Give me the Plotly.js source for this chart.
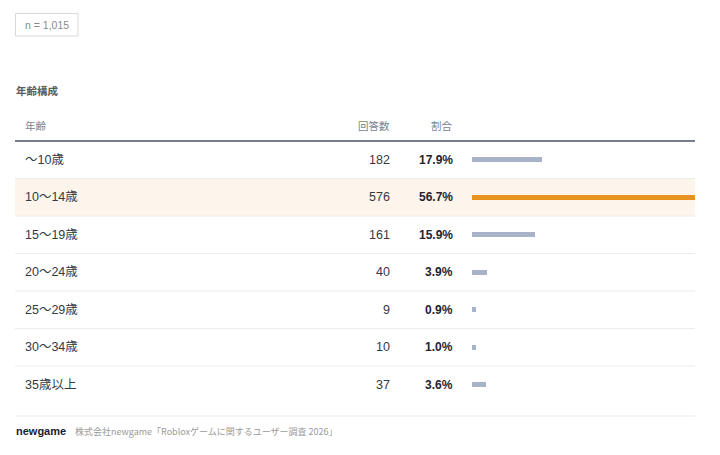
<!DOCTYPE html>
<html>
<head>
<meta charset="utf-8">
<script src="https://cdn.plot.ly/plotly-3.0.1.min.js"></script>
<style>
html,body{margin:0;padding:0;background:#fff;}
#chart{width:720px;height:455px;}
</style>
</head>
<body>
<div id="chart"></div>
<script>
// ---- data ----
const categories = ["～10歳", "10～14歳", "15～19歳", "20～24歳", "25～29歳", "30～34歳", "35歳以上"];
const counts = [182, 576, 161, 40, 9, 10, 37];
const shares = [17.9, 56.7, 15.9, 3.9, 0.9, 1.0, 3.6];
const sampleLabel = "n = 1,015";
const sectionTitle = "年齢構成";
const headers = ["年齢", "回答数", "割合"];
const sourceBrand = "newgame";
const sourceText = "株式会社newgame「Robloxゲームに関するユーザー調査 2026」";

// ---- layout helpers (pixel -> paper) ----
const W = 720, H = 455;
const px = x => x / W;
const py = y => 1 - y / H;

const maxShare = Math.max(...shares);
const hi = shares.indexOf(maxShare);

const LAT = "Liberation Sans, Arial, Noto Sans CJK JP, sans-serif";
const JP = "Noto Sans CJK JP, Liberation Sans, sans-serif";

const tableTop = 141, tableBottom = 403.5;

const trace = {
  type: "bar",
  orientation: "h",
  y: categories.map((_, i) => i),
  x: shares,
  width: 0.14,
  marker: { color: shares.map((_, i) => i === hi ? "#e8921f" : "#a8b2c8") },
  hoverinfo: "skip"
};

const shapes = [];
const annotations = [];

// highlighted row background
shapes.push({
  type: "rect", xref: "paper", yref: "y",
  x0: px(15), x1: px(695), y0: hi - 0.5, y1: hi + 0.5,
  fillcolor: "#fdf5eb", line: { width: 0 }, layer: "below"
});
// row separators (between rows)
for (let i = 0; i < categories.length - 1; i++) {
  shapes.push({
    type: "line", xref: "paper", yref: "y",
    x0: px(15), x1: px(695), y0: i + 0.5, y1: i + 0.5,
    line: { color: "#ececec", width: 1 }, layer: "below"
  });
}
// header line
shapes.push({
  type: "line", xref: "paper", yref: "paper",
  x0: px(15), x1: px(695), y0: py(141), y1: py(141),
  line: { color: "#4a5263", width: 1.3 }
});
// footer separator
shapes.push({
  type: "line", xref: "paper", yref: "paper",
  x0: px(15), x1: px(695), y0: py(416), y1: py(416),
  line: { color: "#ececec", width: 1 }
});
// n box
shapes.push({
  type: "rect", xref: "paper", yref: "paper",
  x0: px(15.5), x1: px(78), y0: py(13.5), y1: py(36),
  line: { color: "#d9d9d9", width: 1 }, fillcolor: "rgba(0,0,0,0)"
});
annotations.push({
  xref: "paper", yref: "paper", x: px(46.5), y: py(25), text: sampleLabel,
  showarrow: false, xanchor: "center", yanchor: "middle",
  font: { family: LAT, size: 10.5, color: "#8a8a8a" }
});
// section title
annotations.push({
  xref: "paper", yref: "paper", x: px(14), y: py(91), text: "<b>" + sectionTitle + "</b>",
  showarrow: false, xanchor: "left", yanchor: "middle",
  font: { family: JP, size: 10.5, color: "#5b5b5b" }
});
// headers
annotations.push({
  xref: "paper", yref: "paper", x: px(23), y: py(125), text: headers[0],
  showarrow: false, xanchor: "left", yanchor: "middle",
  font: { family: JP, size: 10.5, color: "#7d8290" }
});
annotations.push({
  xref: "paper", yref: "paper", x: px(392), y: py(125), text: headers[1],
  showarrow: false, xanchor: "right", yanchor: "middle",
  font: { family: JP, size: 10.5, color: "#7d8290" }
});
annotations.push({
  xref: "paper", yref: "paper", x: px(455), y: py(125), text: headers[2],
  showarrow: false, xanchor: "right", yanchor: "middle",
  font: { family: JP, size: 10.5, color: "#7d8290" }
});
// rows
categories.forEach((c, i) => {
  annotations.push({
    xref: "paper", yref: "y", x: px(23), y: i, text: c,
    showarrow: false, xanchor: "left", yanchor: "middle",
    font: { family: LAT, size: 12.5, color: "#333a44" }
  });
  annotations.push({
    xref: "paper", yref: "y", x: px(392), y: i, text: String(counts[i]),
    showarrow: false, xanchor: "right", yanchor: "middle",
    font: { family: LAT, size: 12.5, color: "#333a44" }
  });
  annotations.push({
    xref: "paper", yref: "y", x: px(455), y: i, text: "<b>" + shares[i].toFixed(1) + "%</b>",
    showarrow: false, xanchor: "right", yanchor: "middle",
    font: { family: LAT, size: 12, color: "#1e2433" }
  });
});
// footer
annotations.push({
  xref: "paper", yref: "paper", x: px(14), y: py(431), text: "<b>" + sourceBrand + "</b>",
  showarrow: false, xanchor: "left", yanchor: "middle",
  font: { family: LAT, size: 11, color: "#1c2030" }
});
annotations.push({
  xref: "paper", yref: "paper", x: px(73), y: py(431), text: sourceText,
  showarrow: false, xanchor: "left", yanchor: "middle",
  font: { family: JP, size: 9, color: "#9a9a9a" }
});

const layout = {
  width: W, height: H,
  margin: { l: 0, r: 0, t: 0, b: 0 },
  paper_bgcolor: "#ffffff", plot_bgcolor: "rgba(0,0,0,0)",
  showlegend: false,
  bargap: 0,
  xaxis: {
    domain: [px(472), px(695)], range: [0, maxShare],
    visible: false, fixedrange: true
  },
  yaxis: {
    domain: [py(tableBottom), py(tableTop)],
    range: [categories.length - 0.5, -0.5],
    visible: false, fixedrange: true
  },
  shapes: shapes,
  annotations: annotations
};

Plotly.newPlot("chart", [trace], layout, { displayModeBar: false, staticPlot: true });
</script>
</body>
</html>
